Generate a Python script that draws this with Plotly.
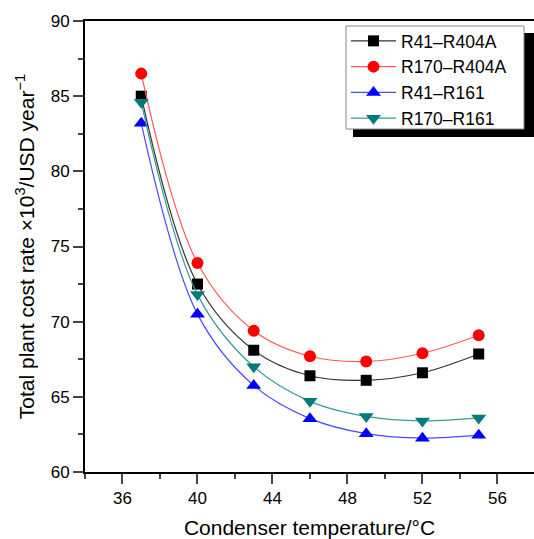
import plotly.graph_objects as go

temps = [37, 40, 43, 46, 49, 52, 55]
r41_r404a = [85.0, 72.5, 68.1, 66.4, 66.1, 66.6, 67.85]
r170_r404a = [86.5, 73.9, 69.4, 67.7, 67.35, 67.9, 69.1]
r41_r161 = [83.2, 70.5, 65.75, 63.55, 62.55, 62.25, 62.45]
r170_r161 = [84.6, 71.8, 67.0, 64.7, 63.7, 63.4, 63.6]

series = [
    ("R41–R404A", r41_r404a, "#333333", "black", "square", 11),
    ("R170–R404A", r170_r404a, "#ff5a5a", "red", "circle", 12),
    ("R41–R161", r41_r161, "#4a4aff", "blue", "triangle-up", 13),
    ("R170–R161", r170_r161, "#3a9a9a", "#007a7a", "triangle-down", 13),
]

fig = go.Figure()
for name, ys, lc, mc, sym, sz in series:
    fig.add_trace(go.Scatter(
        x=temps, y=ys, name=name, mode="lines+markers",
        line=dict(color=lc, width=1.2, shape="spline", smoothing=1.0),
        marker=dict(color=mc, symbol=sym, size=sz, line=dict(width=0)),
    ))

W, H = 534, 539
L, R, T, B = 85, 0, 21, 67
pw, ph = W - L - R, H - T - B

def px(xp):
    return (xp - L) / pw

def py(yp):
    return (H - B - yp) / ph

# legend shadow and frame
fig.add_shape(type="rect", xref="paper", yref="paper",
              x0=px(353), x1=px(540), y0=py(137), y1=py(33),
              fillcolor="black", line=dict(width=0), layer="above")
fig.add_shape(type="rect", xref="paper", yref="paper",
              x0=px(346), x1=px(524), y0=py(129), y1=py(26),
              fillcolor="white", line=dict(width=1, color="#888888"), layer="above")

font = "Liberation Sans, Arial, sans-serif"
fig.update_layout(
    width=W, height=H,
    margin=dict(l=L, r=R, t=T, b=B),
    paper_bgcolor="white", plot_bgcolor="white",
    font=dict(family=font, size=17, color="black"),
    showlegend=True,
    legend=dict(x=px(346), y=py(23), xanchor="left", yanchor="top",
                bgcolor="rgba(0,0,0,0)", borderwidth=0,
                font=dict(size=17.5), itemwidth=45, tracegroupgap=0),
    xaxis=dict(range=[34, 57.95], tick0=36, dtick=4, showgrid=False, zeroline=False,
               ticks="outside", ticklen=10, tickwidth=2, showline=True, linewidth=2,
               linecolor="black", mirror=True,
               minor=dict(ticks="outside", ticklen=5, tickwidth=2, dtick=2, tick0=34, showgrid=False),
               title=dict(text="Condenser temperature/°C", font=dict(size=21), standoff=13)),
    yaxis=dict(range=[60, 90], tick0=60, dtick=5, showgrid=False, zeroline=False,
               ticks="outside", ticklen=10, tickwidth=2, showline=True, linewidth=2,
               linecolor="black", mirror=False,
               minor=dict(ticks="outside", ticklen=5, tickwidth=2, dtick=2.5, tick0=60, showgrid=False),
               title=dict(text="Total plant cost rate ×10<sup>3</sup>/USD year<sup>−1</sup>",
                          font=dict(size=21), standoff=10)),
)

fig.write_html("out.html", config={"displayModeBar": False},
               post_script="document.body.style.margin='0';document.body.style.overflow='hidden';")
